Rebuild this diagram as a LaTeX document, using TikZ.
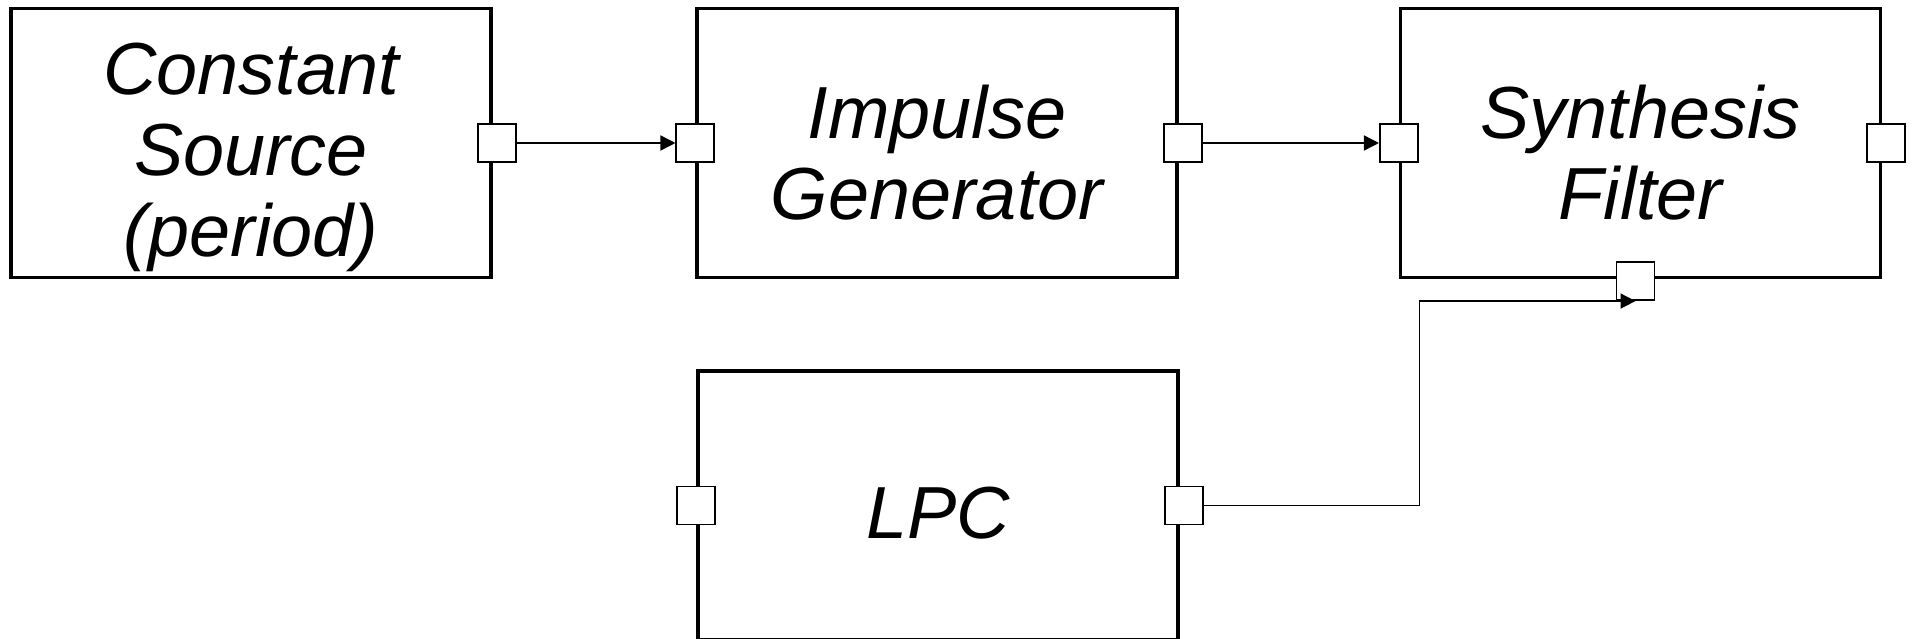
\documentclass[tikz,border=0pt]{standalone}
\usepackage{fontspec}
\setmainfont{Liberation Sans}
\usetikzlibrary{arrows.meta,positioning}
\tikzset{
  flow/.style={-{Triangle[length=1.5mm,width=1.5mm]}, line width=0.45pt},
  block/.style={draw, line width=0.9pt, minimum width=4.8cm, minimum height=2.69cm, inner sep=0pt},
  port/.style={draw, fill=white, line width=0.55pt, minimum size=0.38cm, inner sep=0pt},
  oport/.style={port, xshift=0.04cm},
  blab/.style={font=\fontsize{21}{23}\selectfont\itshape, align=center, inner sep=0pt},
}
\begin{document}
\begin{tikzpicture}[x=1cm,y=1cm]

\useasboundingbox (0,0) rectangle (19.14,-6.38);
\clip (0,0) rectangle (19.14,-6.38);
% ---- blocks ----------------------------------------------------------------
\node[block] (src) at (2.51,-1.43)   {};
\node[block] (imp) at (9.37,-1.43)   {};
\node[block] (syn) at (16.405,-1.43) {};
\node[block] (lpc) at (9.38,-5.055)  {};
\node[blab] (srclab) at ([yshift=-0.145cm]src.center) {Constant\\Source\\(period)};
\node[blab] (implab) at ([yshift=-0.095cm]imp.center) {Impulse\\Generator};
\node[blab] (synlab) at ([yshift=-0.095cm]syn.center) {Synthesis\\Filter};
\node[blab] (lpclab) at ([yshift=-0.075cm]lpc.center) {LPC};
% ---- ports -----------------------------------------------------------------
\node[oport] (srcout) at (src.east) {};
\node[port]  (impin)  at (imp.west) {};
\node[oport] (impout) at (imp.east) {};
\node[port]  (synin)  at (syn.west) {};
\node[oport] (synout) at (syn.east) {};
\node[port]  (synctl) at ([xshift=-0.05cm,yshift=-0.02cm]syn.south) {};
\node[port]  (lpcin)  at (lpc.west) {};
\node[oport] (lpcout) at (lpc.east) {};
% ---- flow ------------------------------------------------------------------
\draw[flow] (srcout) -- (impin);
\draw[flow] (impout) -- (synin);
\draw[flow] (lpcout.east) -- ++(2.16,0) |- (synctl.south);

\end{tikzpicture}
\end{document}
